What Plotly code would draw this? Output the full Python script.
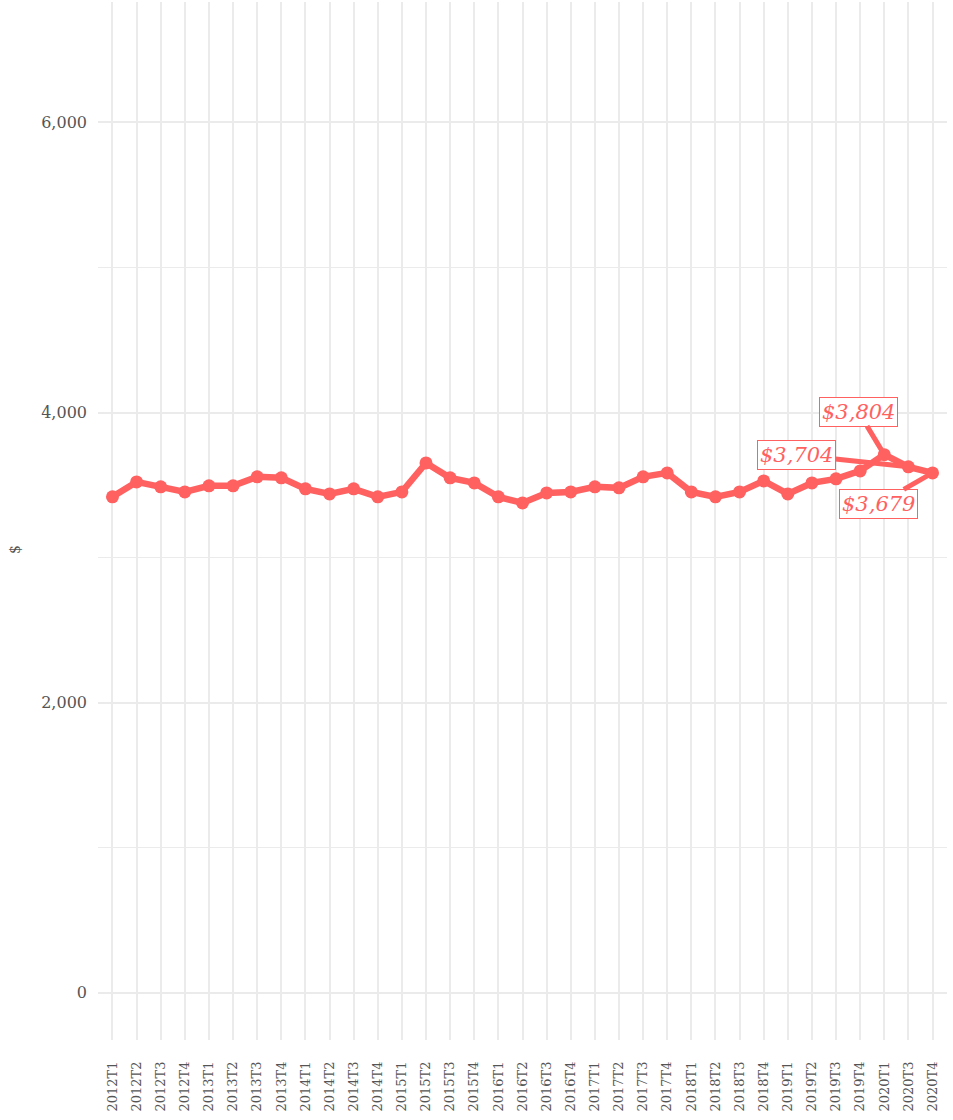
import plotly.graph_objects as go

quarters = ["2012T1","2012T2","2012T3","2012T4","2013T1","2013T2","2013T3","2013T4",
            "2014T1","2014T2","2014T3","2014T4","2015T1","2015T2","2015T3","2015T4",
            "2016T1","2016T2","2016T3","2016T4","2017T1","2017T2","2017T3","2017T4",
            "2018T1","2018T2","2018T3","2018T4","2019T1","2019T2","2019T3","2019T4",
            "2020T1","2020T3","2020T4"]
values = [3419,3522,3488,3453,3495,3495,3557,3550,
          3474,3439,3474,3419,3453,3653,3550,3515,
          3419,3377,3446,3453,3488,3481,3557,3584,
          3453,3419,3453,3529,3439,3515,3543,3598,
          3710,3626,3584]

label_quarters = ["2020T1", "2020T3", "2020T4"]
label_texts = ["$3,804", "$3,704", "$3,679"]
label_offsets = [(-26, -43), (-112, -12), (-54, 31)]

y_ticks = [0, 2000, 4000, 6000]
y_ticktext = ["0", "2,000", "4,000", "6,000"]

color = "#FF6161"
serif = "DejaVu Serif"
tick_color = "#555555"

fig = go.Figure()
fig.add_trace(go.Scatter(
    x=quarters, y=values, mode="lines+markers",
    line=dict(color=color, width=6.5),
    marker=dict(color=color, size=13),
    hoverinfo="x+y", showlegend=False,
))

for q, t, (ax, ay) in zip(label_quarters, label_texts, label_offsets):
    yv = values[quarters.index(q)]
    fig.add_annotation(
        x=q, y=yv, xref="x", yref="y", text=f"<i>{t}</i>",
        showarrow=True, ax=ax, ay=ay, arrowhead=0, arrowwidth=5,
        arrowcolor=color, font=dict(family=serif, size=21, color=color),
        bgcolor="white", bordercolor=color, borderwidth=1, borderpad=2,
    )

fig.add_annotation(
    x=-93 / 849, y=(1120 - 80 - 550) / (1120 - 82), xref="paper", yref="paper",
    text="$", textangle=-90, showarrow=False,
    font=dict(family=serif, size=14, color=tick_color),
)

fig.update_layout(
    width=953, height=1120,
    margin=dict(l=98, r=6, t=2, b=80, autoexpand=False),
    paper_bgcolor="white", plot_bgcolor="white",
    font=dict(family=serif, color=tick_color),
    xaxis=dict(
        type="category", categoryorder="array", categoryarray=quarters,
        range=[-0.6, len(quarters) - 0.4], automargin=False,
        tickangle=-90, tickfont=dict(family=serif, size=13, color=tick_color),
        showgrid=True, gridcolor="#EBEBEB", gridwidth=1.8,
        zeroline=False, showline=False, ticks="", ticklen=0,
        ticklabelstandoff=18,
    ),
    yaxis=dict(
        range=[-325, 6830], automargin=False,
        tickvals=y_ticks, ticktext=y_ticktext,
        tickfont=dict(family=serif, size=16, color=tick_color),
        showgrid=True, gridcolor="#EBEBEB", gridwidth=1.8,
        minor=dict(tickvals=[1000, 3000, 5000], showgrid=True, gridcolor="#EBEBEB", gridwidth=1.2),
        zeroline=False, showline=False, ticks="", ticklabelstandoff=10,
    ),
)

fig.write_html(
    "out.html",
    config={"displayModeBar": False},
    post_script="document.body.style.margin='0';document.body.style.overflow='hidden';",
)
